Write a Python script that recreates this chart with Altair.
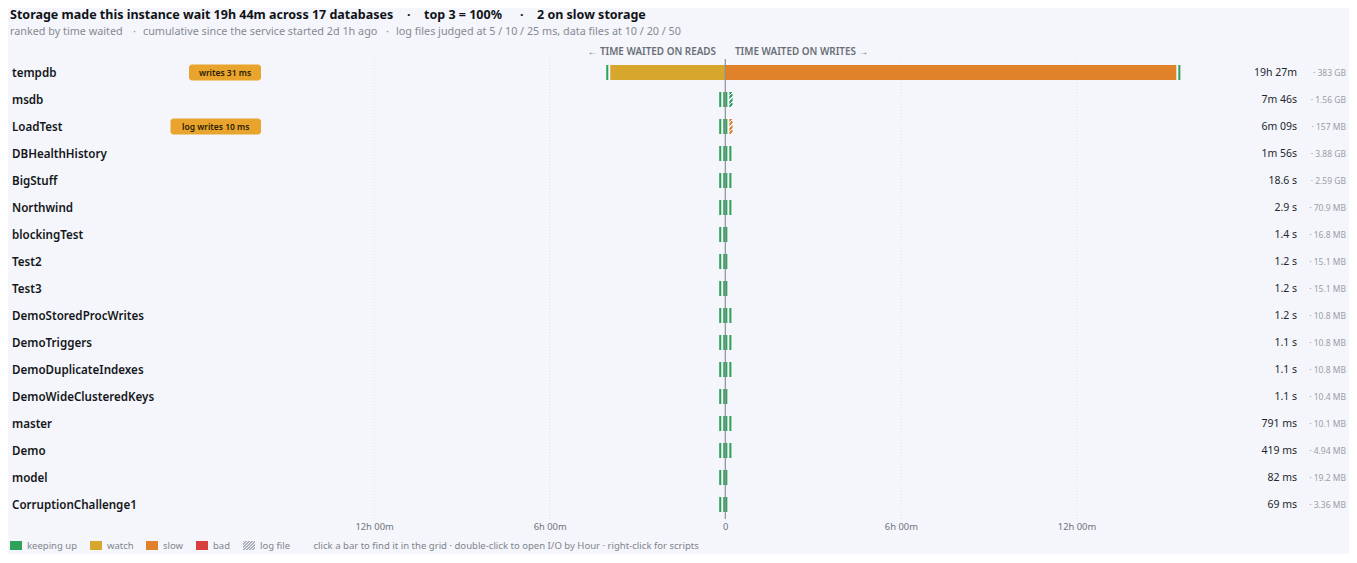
import altair as alt
import pandas as pd

BG = "#f4f6fb"
FONT = "Noto Sans"
GREEN, YELLOW, ORANGE, RED = "#2ea25a", "#d6a72c", "#e0822a", "#d84040"
BADGE = "#e8a42c"

databases = ["tempdb", "msdb", "LoadTest", "DBHealthHistory", "BigStuff", "Northwind",
             "blockingTest", "Test2", "Test3", "DemoStoredProcWrites", "DemoTriggers",
             "DemoDuplicateIndexes", "DemoWideClusteredKeys", "master", "Demo", "model",
             "CorruptionChallenge1"]
total_labels = ["19h 27m", "7m 46s", "6m 09s", "1m 56s", "18.6 s", "2.9 s", "1.4 s", "1.2 s", "1.2 s",
                "1.2 s", "1.1 s", "1.1 s", "1.1 s", "791 ms", "419 ms", "82 ms", "69 ms"]
size_labels = ["383 GB", "1.56 GB", "157 MB", "3.88 GB", "2.59 GB", "70.9 MB", "16.8 MB", "15.1 MB",
               "15.1 MB", "10.8 MB", "10.8 MB", "10.8 MB", "10.4 MB", "10.1 MB", "4.94 MB", "19.2 MB",
               "3.36 MB"]
# displayed hours per segment (tiny waits are shown at the chart's minimum visible width)
read_log_h = [0.07] * 17
read_data_h = [3.93] + [0.07] * 16
write_data_h = [15.41] + [0.07] * 16
write_log_h = [0.07, 0.11, 0.11, 0.07, 0.07, 0.07, 0, 0, 0, 0.07, 0.07, 0.07, 0, 0.07, 0.07, 0, 0]
read_data_state = ["watch"] + ["keeping up"] * 16
write_data_state = ["slow"] + ["keeping up"] * 16
write_log_state = ["keeping up", "hatch green", "hatch orange"] + ["keeping up"] * 14

grid_hours = [-12, -6, 6, 12]
tick_hours = [-12, -6, 0, 6, 12]
badge_db = ["tempdb", "LoadTest"]
badge_text = ["writes 31 ms", "log writes 10 ms"]
badge_left = [181, 162.5]
title_parts = ["Storage made this instance wait 19h 44m across 17 databases", "·", "top 3 = 100%", "·",
               "2 on slow storage"]
title_x = [2, 399, 416, 512, 529]
subtitle_parts = ["ranked by time waited", "·", "cumulative since the service started 2d 1h ago", "·",
                  "log files judged at 5 / 10 / 25 ms, data files at 10 / 20 / 50"]
subtitle_x = [2, 125, 135, 378, 388]
READS = "← TIME WAITED ON READS"
WRITES = "TIME WAITED ON WRITES →"
HINT = "click a bar to find it in the grid · double-click to open I/O by Hour · right-click for scripts"
legend_names = ["keeping up", "watch", "slow", "bad", "log file"]
legend_colors = [GREEN, YELLOW, ORANGE, RED, None]
legend_x = [2, 82, 138, 188, 235]

W, H = 1341, 511
PX_PER_H = 175.6 / 6
ZERO = 717.3
x_domain = [-ZERO / PX_PER_H, (W - ZERO) / PX_PER_H]
GAP = 2 / PX_PER_H


def hatch(color, w, h, period, share=0.5, paper=BG):
    n = round((w + h) / period)
    k = (w + h) / (w * w + h * h)
    stops = []
    for i in range(n):
        a, b, c = i / n, (i + share) / n, (i + 1) / n
        stops += [alt.GradientStop(offset=a, color=color), alt.GradientStop(offset=b, color=color),
                  alt.GradientStop(offset=b, color=paper), alt.GradientStop(offset=c, color=paper)]
    return alt.LinearGradient(gradient="linear", stops=stops, x1=0, y1=0, x2=k * w, y2=k * h)


rows = []
for i, db in enumerate(databases):
    rows.append(dict(db=db, x0=-read_data_h[i], x1=0, state=read_data_state[i]))
    rows.append(dict(db=db, x0=-read_data_h[i] - GAP - read_log_h[i], x1=-read_data_h[i] - GAP, state="keeping up"))
    rows.append(dict(db=db, x0=0, x1=write_data_h[i], state=write_data_state[i]))
    if write_log_h[i]:
        s = write_data_h[i] + GAP
        rows.append(dict(db=db, x0=s, x1=s + write_log_h[i], state=write_log_state[i]))
segments = pd.DataFrame(rows)
solid = segments[~segments.state.str.startswith("hatch")]

y_enc = alt.Y("db:N", sort=databases, axis=None,
              scale=alt.Scale(domain=databases, range=[51, 510], paddingInner=0, paddingOuter=0))
x_scale = alt.Scale(domain=x_domain, nice=False, zero=False)
x_axis = alt.Axis(
    values=tick_hours, grid=False, domain=False, ticks=False, labelFont=FONT, labelFontSize=9.4,
    labelColor="#6f747d", labelPadding=3, labelOverlap=False, labelFlush=False, title=None,
    labelExpr="datum.value == 0 ? '0' : abs(datum.value) + 'h 00m'")

grid = alt.Chart(pd.DataFrame({"h": grid_hours})).mark_rule(
    color="#e1e4ea", strokeWidth=1, strokeDash=[1, 2]
).encode(x=alt.X("h:Q", scale=x_scale, axis=x_axis), y=alt.value(51), y2=alt.value(511))

bars = alt.Chart(solid).mark_bar(height=15).encode(
    x=alt.X("x0:Q", scale=x_scale, axis=x_axis),
    x2="x1:Q",
    y=y_enc,
    color=alt.Color("state:N", legend=None, scale=alt.Scale(
        domain=["keeping up", "watch", "slow", "bad"], range=[GREEN, YELLOW, ORANGE, RED])),
)


def hatched(state, color):
    return alt.Chart(segments[segments.state == state]).mark_bar(
        height=15, color=hatch(color, 3, 15, 4, share=0.62)
    ).encode(x=alt.X("x0:Q", scale=x_scale, axis=x_axis), x2="x1:Q", y=y_enc)


zero_line = alt.Chart(pd.DataFrame({"h": [0]})).mark_rule(color="#8b8f98", strokeWidth=1.2).encode(
    x=alt.X("h:Q", scale=x_scale, axis=x_axis), y=alt.value(51), y2=alt.value(511))

table = pd.DataFrame({"db": databases, "total": total_labels, "size": ["· " + s for s in size_labels]})
names = alt.Chart(table).mark_text(align="left", font=FONT, fontSize=11.6, fontWeight=600, color="#14161a", dy=1).encode(
    x=alt.value(4), y=y_enc, text="db:N")
totals = alt.Chart(table).mark_text(align="right", font=FONT, fontSize=10.5, color="#23262b").encode(
    x=alt.value(1289), y=y_enc, text="total:N")
sizes = alt.Chart(table).mark_text(align="right", font=FONT, fontSize=8.5, color="#9a9ea6").encode(
    x=alt.value(1338), y=y_enc, text="size:N")

badges = pd.DataFrame({"db": badge_db, "t": badge_text, "l": badge_left, "r": [253, 253]})
badges["m"] = (badges.l + badges.r) / 2
badge_rect = alt.Chart(badges).mark_bar(height=16, cornerRadius=3, color=BADGE).encode(
    x=alt.X("l:Q", scale=None), x2="r:Q", y=y_enc)
badge_txt = alt.Chart(badges).mark_text(font=FONT, fontSize=8.5, fontWeight=600, color="#2a1d00").encode(
    x=alt.X("m:Q", scale=None), y=y_enc, text="t:N")


def label(text, x, y, size, color, align="left", weight=400):
    return alt.Chart(pd.DataFrame({"t": [text]})).mark_text(
        align=align, baseline="middle", font=FONT, fontSize=size, fontWeight=weight, color=color
    ).encode(x=alt.value(x), y=alt.value(y), text="t:N")


title_layers = [label(t, x, 7, 12.5, "#111318", weight=700) for t, x in zip(title_parts, title_x)]
subtitle_layers = [label(t, x, 24, 10.8, "#868a92") for t, x in zip(subtitle_parts, subtitle_x)]

legend_layers = []
for name, col, lx in zip(legend_names, legend_colors, legend_x):
    fill = col if col else hatch("#a9afbb", 12, 9, 3.2)
    frame = pd.DataFrame({"a": [lx], "b": [lx + 12]})
    legend_layers.append(alt.Chart(frame).mark_rect(color=fill).encode(
        x=alt.X("a:Q", scale=None), x2="b:Q", y=alt.value(533), y2=alt.value(542)))
    legend_layers.append(label(name, lx + 17, 537.5, 9.5, "#80848c"))

chart = alt.layer(
    grid, bars, hatched("hatch green", GREEN), hatched("hatch orange", ORANGE), zero_line,
    names, totals, sizes, badge_rect, badge_txt,
    *title_layers, *subtitle_layers,
    label(READS, 708, 43.5, 9.9, "#6a6e76", align="right", weight=600),
    label(WRITES, 727, 43.5, 9.9, "#6a6e76", weight=600),
    label(HINT, 305.5, 537.5, 9.55, "#80848c"),
    *legend_layers,
).resolve_scale(x="shared", y="shared").properties(
    width=W, height=H, background=BG,
    autosize=alt.AutoSizeParams(type="none"),
    padding={"left": 0, "top": 0, "right": 0, "bottom": 35},
).configure_view(stroke=None)

chart.save("out.html", embed_options={"renderer": "svg", "actions": False})
